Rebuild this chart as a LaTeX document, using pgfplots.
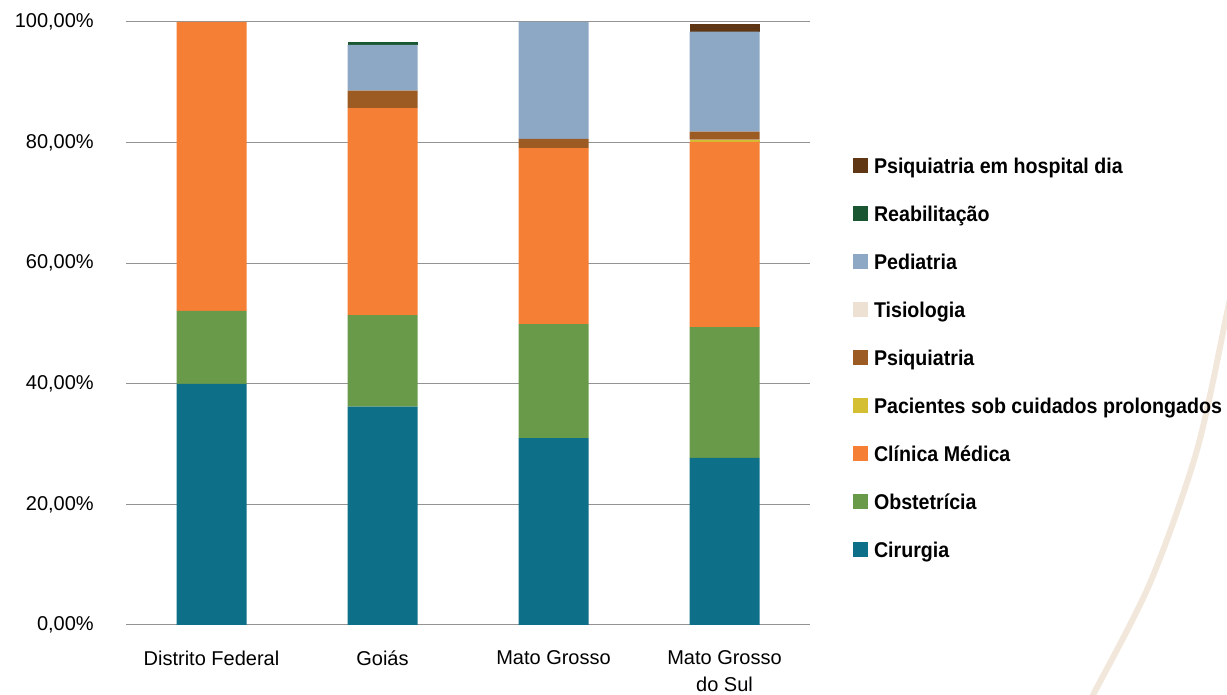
\documentclass[border=0pt]{standalone}
\usepackage{pgfplots}
\pgfplotsset{compat=1.18}
\usepackage{pgfplotstable}
\usepackage{fontspec}
\setmainfont{Liberation Sans}
\newfontfamily\legfont[FakeStretch=0.92]{Liberation Sans}
\definecolor{cCir}{HTML}{0E6F89}
\definecolor{cObs}{HTML}{699A4A}
\definecolor{cCli}{HTML}{F47F35}
\definecolor{cPac}{HTML}{D4BE32}
\definecolor{cPsi}{HTML}{9C5B23}
\definecolor{cTis}{HTML}{EDE1D3}
\definecolor{cPed}{HTML}{8DA8C5}
\definecolor{cRea}{HTML}{1A5632}
\definecolor{cPhd}{HTML}{5F3714}
\definecolor{cCurve}{HTML}{F2E7DB}
\pgfplotstableread{
x Cir Obs Cli Pac Psi Tis Ped Rea Phd
0 40.0 12.1 47.9 0 0 0 0 0 0
1 36.2 15.2 34.3 0 2.9 0 7.6 0.5 0
2 31.0 18.9 29.2 0 1.5 0 19.4 0 0
3 27.7 21.7 30.7 0.4 1.3 0 16.6 0 1.3
}\datatable
\begin{document}
\begin{tikzpicture}
\useasboundingbox (0,0) rectangle (920.25pt,521.25pt);
\draw[cCurve, line width=4.5pt] plot[smooth, tension=0.5] coordinates {(924.5pt,305pt) (920.25pt,286.5pt) (897.75pt,183.75pt) (862.5pt,84pt) (819.75pt,0pt) (815pt,-9pt)};
\begin{axis}[
  at={(94.5pt,52.5pt)}, anchor=south west,
  scale only axis, width=513pt, height=452.25pt,
  ybar stacked, bar width=52.5pt,
  xmin=-0.5, xmax=3.5, ymin=0, ymax=100,
  xtick={0,1,2,3},
  xticklabels={{Distrito Federal},{Goiás},{Mato Grosso},{Mato Grosso\\do Sul}},
  ytick={0,20,40,60,80,100},
  yticklabels={{0,00\%},{20,00\%},{40,00\%},{60,00\%},{80,00\%},{100,00\%}},
  axis line style={draw=none},
  major tick length=0pt,
  ymajorgrids, grid style={draw=gray!85, line width=0.75pt},
  yticklabel style={font=\fontsize{15}{18}\selectfont, inner sep=0pt, anchor=east},
  yticklabel shift=24pt,
  xticklabel style={font=\fontsize{15}{20}\selectfont, inner sep=0pt, anchor=north, align=center},
  xticklabel shift=19pt,
  legend cell align=left,
  reverse legend,
  legend style={at={(1.0629,0.776)}, anchor=north west, draw=none, fill=none, inner sep=0pt, outer sep=0pt,
    font=\fontsize{16}{19}\selectfont\legfont\bfseries,
    nodes={inner sep=0pt, text height=12pt, text depth=4pt},
    row sep=20pt,
    /tikz/every odd column/.append style={column sep=4.5pt}},
  legend image code/.code={\fill[#1] (0pt,-4.0pt) rectangle (11.25pt,7.25pt);},
]
\addplot[fill=cCir, draw=none] table[x=x, y=Cir] {\datatable};
\addlegendentry{Cirurgia}
\addplot[fill=cObs, draw=none] table[x=x, y=Obs] {\datatable};
\addlegendentry{Obstetrícia}
\addplot[fill=cCli, draw=none] table[x=x, y=Cli] {\datatable};
\addlegendentry{Clínica Médica}
\addplot[fill=cPac, draw=none] table[x=x, y=Pac] {\datatable};
\addlegendentry{Pacientes sob cuidados prolongados}
\addplot[fill=cPsi, draw=none] table[x=x, y=Psi] {\datatable};
\addlegendentry{Psiquiatria}
\addplot[fill=cTis, draw=none] table[x=x, y=Tis] {\datatable};
\addlegendentry{Tisiologia}
\addplot[fill=cPed, draw=none] table[x=x, y=Ped] {\datatable};
\addlegendentry{Pediatria}
\addplot[fill=cRea, draw=none] table[x=x, y=Rea] {\datatable};
\addlegendentry{Reabilitação}
\addplot[fill=cPhd, draw=none] table[x=x, y=Phd] {\datatable};
\addlegendentry{Psiquiatria em hospital dia}
\end{axis}
\end{tikzpicture}
\end{document}
